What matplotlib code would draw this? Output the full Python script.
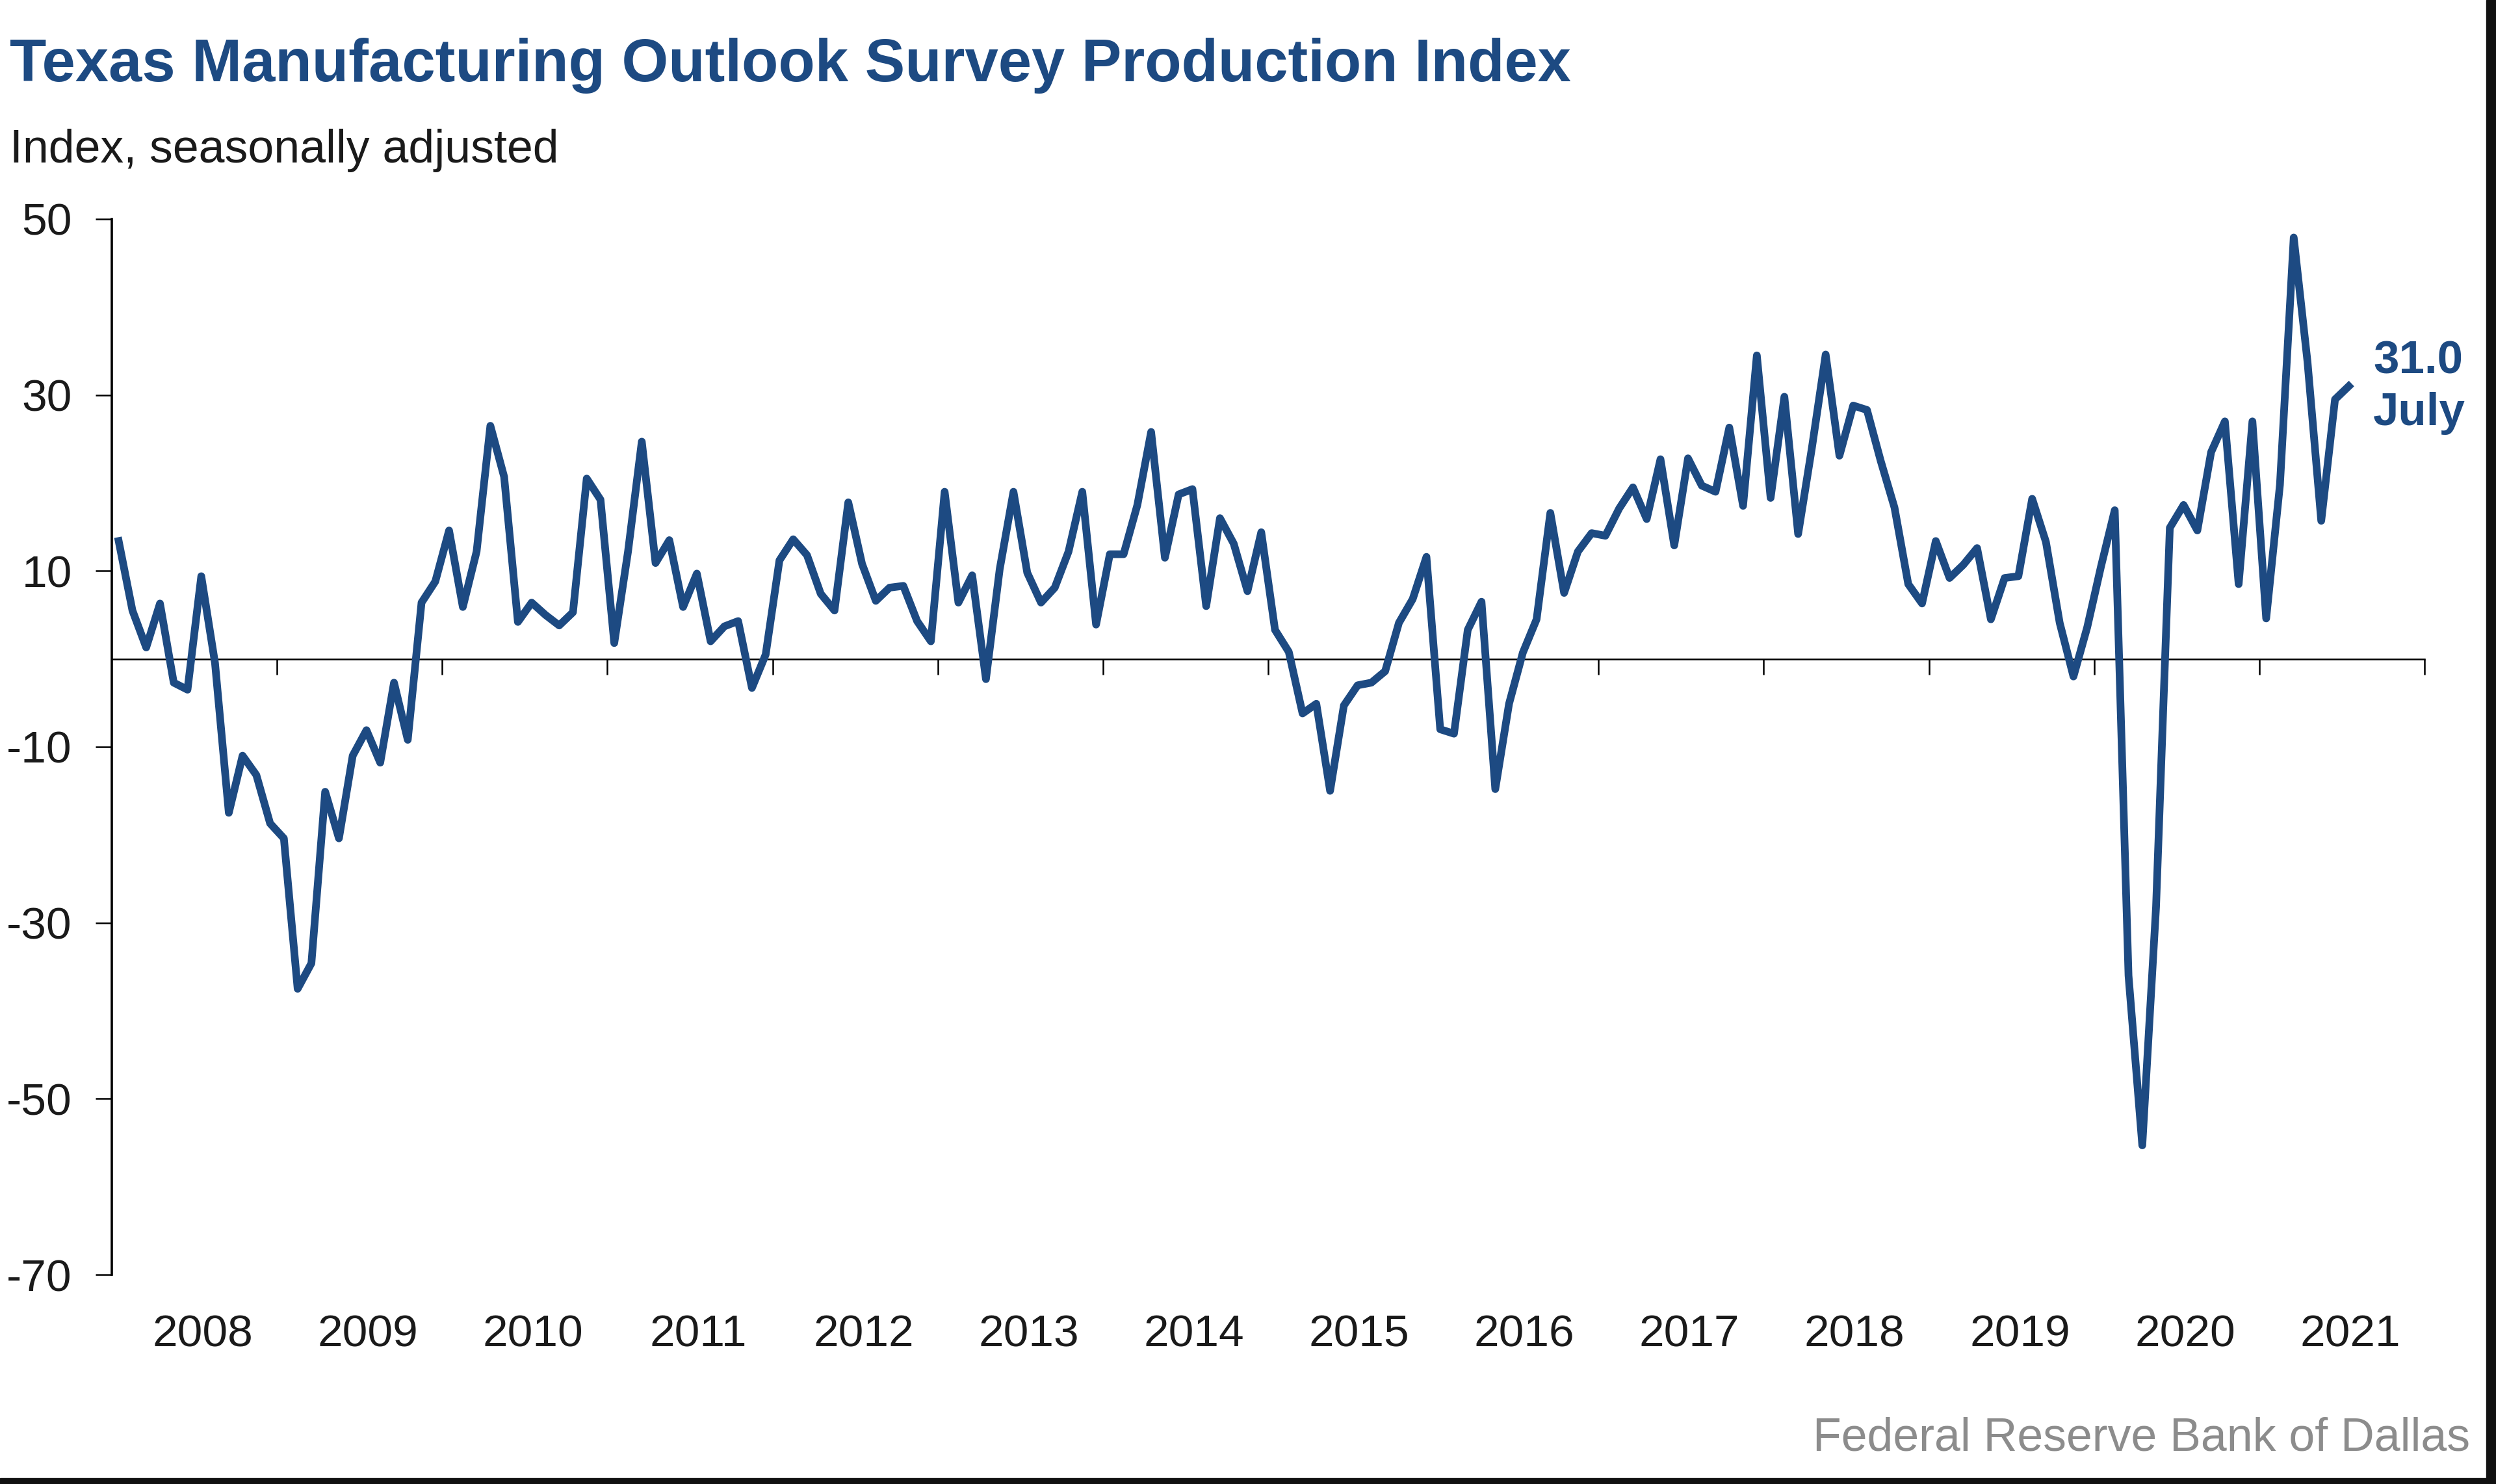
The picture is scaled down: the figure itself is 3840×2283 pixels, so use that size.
import matplotlib
matplotlib.use('Agg')
import matplotlib.pyplot as plt
import matplotlib.transforms as mtransforms
from matplotlib.patches import Rectangle
import numpy as np

# monthly production index (seasonally adjusted), one list per year
idx_2008 = [13.4, 5.5, 1.3, 6.3, -2.7, -3.5, 9.4, -0.5, -17.5, -11.0, -13.2, -18.7]
idx_2009 = [-20.4, -37.5, -34.6, -15.1, -20.4, -11.0, -8.1, -11.8, -2.7, -9.2, 6.4, 8.8]
idx_2010 = [14.6, 5.9, 12.2, 26.5, 20.7, 4.2, 6.4, 5.0, 3.8, 5.3, 20.5, 18.1]
idx_2011 = [1.8, 12.2, 24.7, 10.9, 13.5, 5.9, 9.7, 2.0, 3.7, 4.3, -3.3, 0.5]
idx_2012 = [11.2, 13.6, 11.8, 7.4, 5.5, 17.8, 10.8, 6.6, 8.1, 8.3, 4.3, 2.0]
idx_2013 = [19.0, 6.4, 9.5, -2.3, 10.2, 19.0, 9.8, 6.4, 8.1, 12.2, 19.0, 3.9]
idx_2014 = [11.9, 11.9, 17.5, 25.8, 11.5, 18.7, 19.3, 6.0, 16.0, 13.1, 7.7, 14.4]
idx_2015 = [3.3, 0.8, -6.2, -5.1, -15.0, -5.3, -3.0, -2.7, -1.4, 4.1, 6.8, 11.6]
idx_2016 = [-8.0, -8.5, 3.3, 6.5, -14.8, -5.1, 0.7, 4.5, 16.6, 7.5, 12.2, 14.3]
idx_2017 = [14.0, 17.1, 19.5, 15.9, 22.7, 12.9, 22.8, 19.7, 19.0, 26.3, 17.4, 34.5]
idx_2018 = [18.3, 29.8, 14.2, 24.0, 34.6, 23.1, 28.8, 28.3, 22.5, 17.2, 8.5, 6.3]
idx_2019 = [13.4, 9.2, 10.7, 12.6, 4.5, 9.2, 9.4, 18.2, 13.3, 4.1, -2.0, 3.6]
idx_2020 = [10.5, 16.9, -36.0, -55.3, -28.2, 14.9, 17.5, 14.6, 23.5, 27.0, 8.5, 27.0]
idx_2021 = [4.6, 19.8, 47.9, 33.8, 15.7, 29.5, 31.0]

production = (idx_2008 + idx_2009 + idx_2010 + idx_2011 + idx_2012 + idx_2013 + idx_2014
              + idx_2015 + idx_2016 + idx_2017 + idx_2018 + idx_2019 + idx_2020 + idx_2021)

start_year = 2008
year_labels = [str(y) for y in range(2008, 2022)]
y_ticks = [50, 30, 10, -10, -30, -50, -70]
y_tick_labels = ['50', '30', '10', '-10', '-30', '-50', '-70']
last_value = '31.0'
last_month = 'July'

title = 'Texas Manufacturing Outlook Survey Production Index'
subtitle = 'Index, seasonally adjusted'
source = 'Federal Reserve Bank of Dallas'

blue = '#1d4a82'
plt.rcParams['font.family'] = ['Liberation Sans', 'DejaVu Sans']

fig = plt.figure(figsize=(38.4, 22.83), dpi=100)
ax = fig.add_axes([0.04479, 0.14104, 0.92656, 0.71135])

# months sit in the middle of their month slot
x = start_year + (np.arange(len(production)) + 0.5) / 12
ax.plot(x, production, color=blue, lw=8.5, solid_joinstyle='round', zorder=3)

ax.set_xlim(2008, 2022)
ax.set_ylim(-70, 50)

for s in ['top', 'right']:
    ax.spines[s].set_visible(False)
ax.spines['bottom'].set_position(('data', 0))
ax.spines['bottom'].set_linewidth(1.8)
ax.spines['left'].set_linewidth(2.6)

ax.set_xticks(range(2009, 2023))
ax.tick_params(axis='x', direction='out', length=17, width=1.8, labelbottom=False)
ax.set_yticks(y_ticks)
ax.set_yticklabels(y_tick_labels)
ax.tick_params(axis='y', direction='out', length=18, width=1.8, pad=26,
               labelsize=50, labelcolor='#1a1a1a')

# year labels under each year, at the bottom of the chart
trans = mtransforms.blended_transform_factory(ax.transData, fig.transFigure)
for i, lab in enumerate(year_labels):
    ax.text(start_year + i + 0.55, 1 - 2054 / 2283, lab, transform=trans,
            ha='center', va='center', fontsize=50, color='#1a1a1a')

# last value call-out
ax.annotate(last_value, xy=(x[-1], production[-1]), xytext=(27, 14),
            textcoords='offset points', fontsize=51, fontweight='bold',
            color=blue, ha='left', va='baseline')
ax.annotate(last_month, xy=(x[-1], production[-1]), xytext=(27, -43),
            textcoords='offset points', fontsize=51, fontweight='bold',
            color=blue, ha='left', va='baseline')

fig.text(0.004, 1 - 125 / 2283, title, fontsize=66.4, fontweight='bold',
         color=blue, va='baseline')
fig.text(0.004, 1 - 250 / 2283, subtitle, fontsize=51.6, color='#1a1a1a',
         va='baseline')
fig.text(3800 / 3840, 1 - 2232 / 2283, source, fontsize=51.6, color='#8c8c8c',
         ha='right', va='baseline')

# dark frame edge on the right and bottom
fig.patches.append(Rectangle((3825 / 3840, 0), 15 / 3840, 1, transform=fig.transFigure,
                             color='#111111', zorder=10))
fig.patches.append(Rectangle((0, 0), 1, 9 / 2283, transform=fig.transFigure,
                             color='#111111', zorder=10))

fig.savefig('out.png', dpi=100, facecolor='white')
